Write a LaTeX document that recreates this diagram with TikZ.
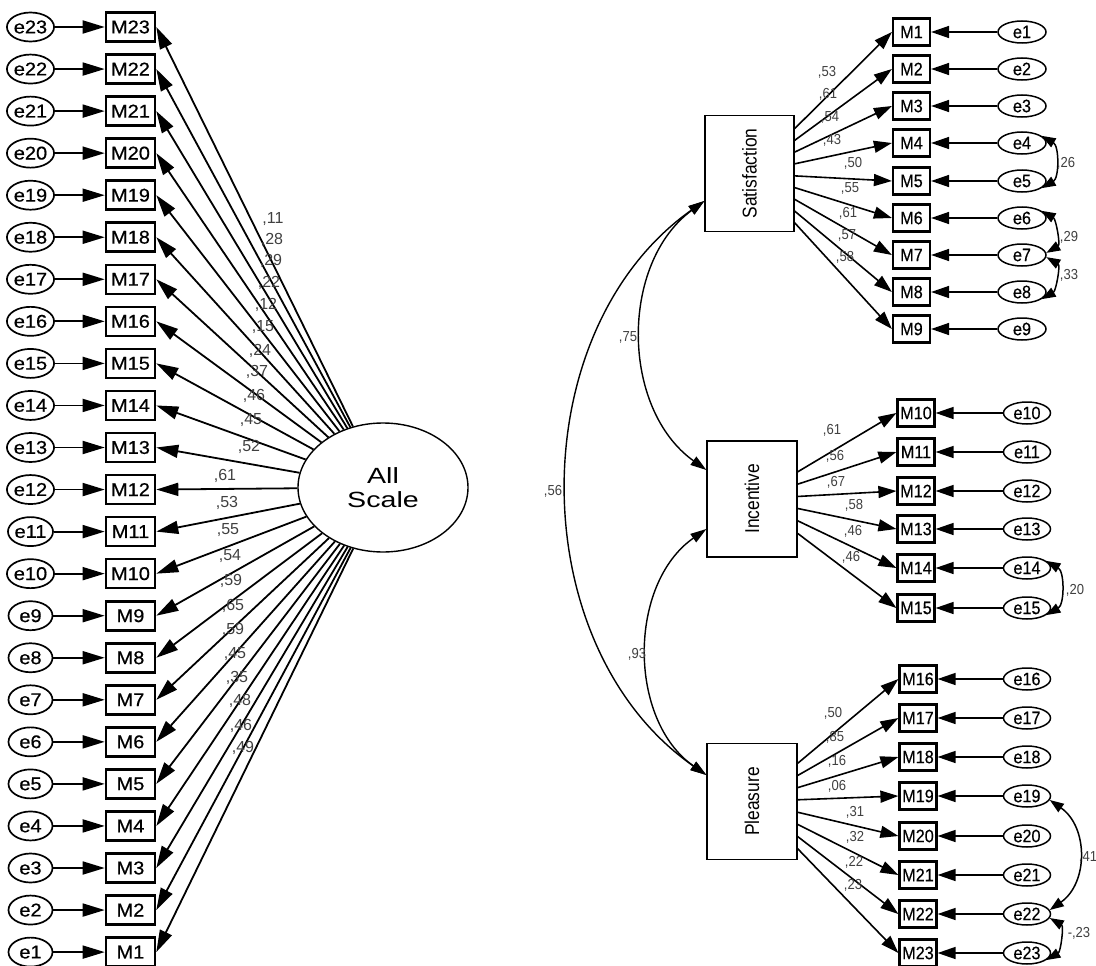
\documentclass[tikz,border=0pt]{standalone}
\usepackage{fontspec}
\setmainfont{Liberation Sans}
\newfontfamily\Lfont{Liberation Sans}[FakeStretch=1.08,FakeBold=0.6]
\newfontfamily\Rfont{Liberation Sans}[FakeStretch=0.9,FakeBold=0.4]
\newfontfamily\Afont{Liberation Sans}[FakeStretch=1.3]
\newfontfamily\Ffont{Liberation Sans}[FakeStretch=0.87]
\newfontfamily\Nfont{Liberation Sans}[FakeStretch=0.9]
\usetikzlibrary{arrows.meta,shapes.geometric}
\tikzset{
  le/.style={ellipse, draw, line width=1.7pt, minimum width=44pt, minimum height=29pt, inner sep=0pt, font=\Lfont\fontsize{18.5}{20}\selectfont},
  lm/.style={rectangle, draw, line width=2.6pt, minimum width=49pt, minimum height=29pt, inner sep=0pt, font=\Lfont\fontsize{18.5}{20}\selectfont},
  re/.style={ellipse, draw, line width=1.5pt, minimum width=47pt, minimum height=22pt, inner sep=0pt, font=\Rfont\fontsize{18}{20}\selectfont},
  rm/.style={rectangle, draw, line width=2.2pt, minimum width=37pt, minimum height=27pt, inner sep=0pt, font=\Rfont\fontsize{18}{20}\selectfont},
  fbox/.style={rectangle, draw, line width=1.3pt, minimum width=90pt, minimum height=116pt, inner sep=0pt, font=\Ffont\fontsize{20}{22}\selectfont},
  larr/.style={line width=1.8pt, -{Triangle[length=22pt,width=13pt]}},
  rarr/.style={line width=1.6pt, -{Triangle[length=18pt,width=12pt]}},
  cov/.style={line width=1.5pt, {Triangle[length=14pt,width=10pt]}-{Triangle[length=14pt,width=10pt]}},
  fcov/.style={line width=1.4pt, {Triangle[length=16pt,width=10pt]}-{Triangle[length=16pt,width=10pt]}},
  lnum/.style={font=\fontsize{16}{17}\selectfont, text=black!75, inner sep=0pt},
  rnum/.style={font=\Nfont\fontsize{14.5}{15}\selectfont, text=black!75, inner sep=0pt}
}
\begin{document}
\begin{tikzpicture}[x=1pt,y=-1pt]
\useasboundingbox (0,0) rectangle (1096,966);
% ---------- left: one-factor model ----------
\node[ellipse, draw, line width=1.4pt, minimum width=170pt, minimum height=129pt, inner sep=0pt, align=center, font=\Afont\fontsize{22}{24}\selectfont] (AS) at (383,487.5) {All\\Scale};
\foreach \k [evaluate=\k as \yy using {27+42.05*(23-\k)}] in {1,...,23} {
  \node[le] (le\k) at (30.5,\yy) {e\k};
  \node[lm] (lm\k) at (130.5,\yy) {M\k};
  \draw[larr] (le\k) -- (lm\k);
  \draw[larr] (AS) -- (lm\k.east);
}
\foreach \k/\v/\x/\y in {23/11/273/219, 22/28/272/240, 21/29/271/261, 20/22/269/283, 19/12/266/305, 18/15/263/327, 17/24/260/351, 16/37/257/372, 15/46/254/396, 14/45/251/420, 13/52/249/447, 12/61/225/476, 11/53/227/503, 10/55/228/530, 9/54/230/556, 8/59/231/581, 7/65/233/606, 6/59/233/630, 5/45/235/654, 4/35/237/678, 3/48/240/701, 2/46/241/726, 1/49/243/748}
  \node[lnum] (ll\k) at (\x,\y) {,\v};
% ---------- right: three-factor model ----------
\node[fbox, minimum width=89pt] (Sat) at (749.5,173.5) {\rotatebox{90}{Satisfaction}};
\node[fbox] (Inc) at (752,499) {\rotatebox{90}{Incentive}};
\node[fbox] (Ple) at (752,801.5) {\rotatebox{90}{Pleasure}};
\foreach \k/\y in {1/32,2/69,3/106,4/143,5/181,6/218,7/255,8/292,9/329} {
  \node[rm] (rm\k) at (911.5,\y) {M\k};
  \node[re, minimum width=48pt] (re\k) at (1022,\y) {e\k};
  \draw[rarr] (re\k) -- (rm\k);
  \draw[rarr] (Sat) -- (rm\k.west);
}
\foreach \k/\y in {10/413,11/452,12/491,13/529,14/568,15/608} {
  \node[rm] (rm\k) at (916,\y) {M\k};
  \node[re] (re\k) at (1027,\y) {e\k};
  \draw[rarr] (re\k) -- (rm\k);
  \draw[rarr] (Inc) -- (rm\k.west);
}
\foreach \k/\y in {16/679,17/718,18/757,19/796,20/836,21/875,22/914,23/953} {
  \node[rm] (rm\k) at (918,\y) {M\k};
  \node[re] (re\k) at (1027,\y) {e\k};
  \draw[rarr] (re\k) -- (rm\k);
  \draw[rarr] (Ple) -- (rm\k.west);
}
\foreach \v/\x/\y [count=\i] in {53/827/72, 61/828/94, 54/830/117, 43/832/140, 50/853/163, 55/850/188, 61/848/213, 57/847/235, 58/845/257}
  \node[rnum] (ls\i) at (\x,\y) {,\v};
\foreach \v/\x/\y [count=\i] in {61/832/430, 56/835/456, 67/836/482, 58/854/505, 46/853/531, 46/851/557}
  \node[rnum] (li\i) at (\x,\y) {,\v};
\foreach \v/\x/\y [count=\i] in {50/833/713, 85/835/737, 16/837/761, 06/837/786, 31/855/812, 32/855/837, 22/854/862, 23/853/885}
  \node[rnum] (lp\i) at (\x,\y) {,\v};
% error covariances
\draw[cov] (re4.20) to[out=-30,in=30] (re5.-20);
\draw[cov] (re6.20) to[out=-30,in=30] (re7.5);
\draw[cov] (re7.-5) to[out=-30,in=30] (re8.-20);
\draw[cov] (re14.20) to[out=-30,in=30] (re15.-20);
\draw[cov] (re19.-10) to[out=-35,in=35,looseness=1.1] (re22.10);
\draw[cov] (re22.-10) to[out=-30,in=30] (re23.-20);
\node[rnum] (c1) at (1066,163) {,26};
\node[rnum] (c2) at (1069,237) {,29};
\node[rnum] (c3) at (1069,275) {,33};
\node[rnum] (c4) at (1075,590) {,20};
\node[rnum] (c5) at (1088,857) {,41};
\node[rnum] (c6) at (1079,933) {-,23};
% factor covariances
\draw[fcov] ([yshift=-27.5pt]Sat.west) to[bend right=54] ([yshift=29pt]Inc.west);
\draw[fcov] ([yshift=-30pt]Inc.west) to[bend right=55] ([yshift=26.5pt]Ple.west);
\draw[fcov] ([yshift=-27.5pt]Sat.west) to[bend right=55] ([yshift=26.5pt]Ple.west);
\node[rnum] (f1) at (628,337) {,75};
\node[rnum] (f2) at (637,654) {,93};
\node[rnum] (f3) at (553,491) {,56};
\end{tikzpicture}
\end{document}
